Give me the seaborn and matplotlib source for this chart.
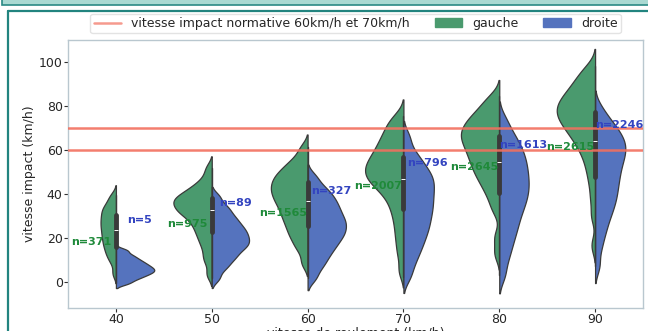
import numpy as np
import pandas as pd
import matplotlib
matplotlib.use("Agg")
import matplotlib.pyplot as plt
import seaborn as sns
from matplotlib.lines import Line2D
from matplotlib.patches import Patch, Rectangle

# ---------------- data ----------------
categories = [40, 50, 60, 70, 80, 90]
sides = ["gauche", "droite"]

gauche_40 = [3.75, 8.6, 11.1, 12.75, 14.4, 15.9, 17.2, 18.5, 19.8, 21, 22.2, 23.4, 24.6, 25.7,
             26.8, 27.9, 29.1, 30.2, 31.4, 32.6, 33.8, 35, 37.2, 39.4]
droite_40 = [-0.76, 0.87, 2.0, 2.92, 3.71, 4.42, 5.06, 5.71, 6.39, 7.13, 7.92, 8.78, 9.75,
             10.88, 12.26, 14.26]
gauche_50 = [3.3, 9, 12.3, 15.8, 18.3, 20.6, 22.4, 24.3, 25.9, 27.3, 28.8, 30.1, 30.95, 31.8,
             32.6, 33.5, 34.3, 35.1, 35.9, 36.6, 37.3, 38.1, 38.8, 39.6, 40.6, 41.9, 43.3,
             44.7, 47.6, 51.8]
droite_50 = [1.5, 5.5, 7.5, 9.6, 11, 12.3, 13.7, 15, 15.9, 16.8, 17.7, 18.7, 19.6, 20.5, 21.5,
             22.5, 23.5, 24.5, 25.6, 26.9, 28.2, 29.5, 31.2, 33.1, 35, 38.75]
gauche_60 = [8.45, 14.1, 17.1, 19.7, 21.7, 23.6, 25.5, 27.1, 28.7, 30.25, 31.6, 33, 34.4, 35.7,
             36.8, 37.9, 39.05, 40.15, 41.2, 42.2, 43.2, 44.2, 45.3, 46.4, 47.5, 48.6, 49.7,
             51.2, 52.8, 54.4, 57, 61.1]
droite_60 = [1.6, 5.9, 8.5, 10.9, 12.8, 14.7, 16.2, 17.7, 19.1, 20.4, 21.6, 22.7, 23.9, 25,
             26.2, 27.3, 28.4, 29.6, 30.9, 32.25, 33.6, 34.9, 36.5, 38, 39.6, 41.6, 43.8, 47.8]
gauche_70 = [4.8, 12.4, 17.8, 22.4, 26.6, 30.3, 33.4, 36.1, 38.4, 40.5, 41.9, 43.3, 44.7, 45.8,
             46.7, 47.7, 48.7, 49.6, 50.6, 51.6, 52.5, 53.5, 54.5, 55.5, 56.7, 57.9, 59.1,
             60.4, 61.9, 63.4, 64.8, 66.6, 68.5, 70.5, 72.8, 75.5]
droite_70 = [2.2, 7.4, 11.1, 14, 16.5, 18.8, 20.9, 22.8, 24.7, 26.4, 28.1, 29.9, 31.5, 33.1,
             34.6, 36.2, 37.8, 39.3, 40.9, 42.4, 43.9, 45.4, 46.9, 48.4, 49.9, 51.9, 53.9,
             56.4, 59.6, 65.8]
gauche_80 = [12.8, 20.4, 32.3, 36.7, 40.2, 42.6, 45, 46.8, 48.5, 50.2, 51.6, 53, 54.5, 55.8,
             57.1, 58.3, 59.6, 60.8, 61.9, 63, 64.1, 65.1, 66.1, 67.1, 68.1, 69, 70.1, 71.2,
             72.3, 73.5, 74.6, 76.1, 77.7, 79.4, 81.9, 84.5]
droite_80 = [2.8, 9.3, 13.7, 17.2, 20.3, 23, 25.4, 27.7, 30, 31.9, 33.8, 35.6, 37.2, 38.8,
             40.4, 41.9, 43.4, 44.9, 46.4, 48, 49.5, 51.1, 52.7, 54.3, 56, 57.7, 59.5, 61.4,
             63.6, 66, 69, 73.9]
gauche_90 = [16.5, 29.9, 37.6, 43.9, 48.7, 52.4, 55.7, 58.2, 60.6, 62.3, 64.1, 65.6, 66.9,
             68.2, 69.4, 70.5, 71.5, 72.5, 73.4, 74.4, 75.3, 76.1, 77, 77.8, 78.6, 79.5, 80.3,
             81.2, 82.2, 83.1, 84, 84.9, 86.2, 87.5, 88.7, 90, 91.8, 93.5, 95.5, 98.2]
droite_90 = [7.2, 14.9, 19.95, 23.6, 26.7, 29.5, 31.7, 33.8, 35.8, 37.6, 39.3, 41, 42.7, 44.4,
             46, 47.5, 49.1, 50.6, 52.1, 53.5, 55, 56.2, 57.5, 58.7, 60, 61.2, 62.4, 63.6,
             64.75, 66.1, 67.6, 69, 70.7, 72.8, 74.9, 79.1]

gauche_values = [gauche_40, gauche_50, gauche_60, gauche_70, gauche_80, gauche_90]
droite_values = [droite_40, droite_50, droite_60, droite_70, droite_80, droite_90]

n_gauche = [371, 975, 1565, 2007, 2645, 2615]
n_droite = [5, 89, 327, 796, 1613, 2246]
label_y_gauche = [17.9, 26.1, 31.1, 43.6, 52.0, 61.5]
label_y_droite = [27.9, 35.8, 41.2, 53.8, 62.1, 71.5]

normative_speeds = [60, 70]

# ---------------- tables ----------------
rows = []
box_rows = []
for cat, gv, dv, ng, nd in zip(categories, gauche_values, droite_values, n_gauche, n_droite):
    for v in gv:
        rows.append({"roulement": str(cat), "impact": v, "cote": "gauche"})
    for v in dv:
        rows.append({"roulement": str(cat), "impact": v, "cote": "droite"})
    # the centre box summarises both sides together, each side weighted by its count
    rg = max(1, round(ng / len(gv)))
    rd = max(1, round(nd / len(dv)))
    for v in np.concatenate([np.repeat(gv, rg), np.repeat(dv, rd)]):
        box_rows.append({"roulement": str(cat), "impact": v})
df = pd.DataFrame(rows)
df_box = pd.DataFrame(box_rows)
order = [str(c) for c in categories]

GREEN = "#4a9a6e"
BLUE = "#5573be"
palette = {"gauche": GREEN, "droite": BLUE}
EDGE = "#3a3a3a"
RED = "#f2705f"

sns.set_style("white")
plt.rcParams["font.family"] = ["DejaVu Sans"]

fig = plt.figure(figsize=(6.48, 3.31), dpi=100)
ax = fig.add_axes([68 / 648, 1 - 308 / 331, (643 - 68) / 648, (308 - 40) / 331])

# split violins, normalised within each speed class
for cat in order:
    sub = df[df["roulement"] == cat]
    sns.violinplot(data=sub, x="roulement", y="impact", hue="cote", order=order,
                   hue_order=sides, split=True, palette=palette, saturation=1,
                   density_norm="area", common_norm=True, bw_adjust=0.45, cut=2,
                   inner=None, linewidth=0.9, linecolor=EDGE, legend=False, ax=ax)

# one box (both sides together) on the centre line of each violin
sns.violinplot(data=df_box, x="roulement", y="impact", order=order, color=EDGE, fill=False,
               linewidth=0, inner="box", bw_adjust=0.45, cut=2,
               inner_kws=dict(box_width=3.5, whis_width=1.0, color=EDGE), ax=ax)

for y in normative_speeds:
    ax.axhline(y, color=RED, lw=1.8, alpha=0.9, zorder=5)

for i, (ng, nd, yg, yd) in enumerate(zip(n_gauche, n_droite, label_y_gauche, label_y_droite)):
    ax.text(i - 0.26, yg, f"n={ng}", ha="center", va="center", color="#1f8a3a",
            fontweight="bold", fontsize=8, zorder=6)
    ax.text(i + 0.25, yd, f"n={nd}", ha="center", va="center", color="#3344c0",
            fontweight="bold", fontsize=8, zorder=6)

ax.set_xlim(-0.5, 5.5)
ax.set_ylim(-12, 110)
ax.set_yticks([0, 20, 40, 60, 80, 100])
ax.set_xlabel("vitesse de roulement (km/h)", fontsize=9, labelpad=0)
ax.set_ylabel("vitesse impact (km/h)", fontsize=9, labelpad=2)
ax.tick_params(axis="both", labelsize=9, length=3, color="#333333", left=True, bottom=True,
               pad=0.8)
for s in ax.spines.values():
    s.set_color("#b9c7cf")
    s.set_linewidth(1.0)

handles = [Line2D([0], [0], color=RED, lw=1.8, alpha=0.7),
           Patch(facecolor=GREEN, edgecolor=GREEN),
           Patch(facecolor=BLUE, edgecolor=BLUE)]
labels = ["vitesse impact normative 60km/h et 70km/h", "gauche", "droite"]
ax.legend(handles, labels, loc="lower center", bbox_to_anchor=(0.5, 1.026),
          ncol=3, fontsize=9, frameon=True, borderaxespad=0, borderpad=0.25,
          handlelength=2.2, columnspacing=2.0, edgecolor="#dddddd", fancybox=True)

# document frame around the chart
fig.add_artist(Rectangle((2 / 648, 1 - 5 / 331), 1, 6 / 331, transform=fig.transFigure,
                         facecolor="#a9d9d2", edgecolor="#2a8a85", lw=1.2, clip_on=False))
fig.add_artist(Line2D([7.5 / 648, 1.0], [1 - 10.5 / 331, 1 - 10.5 / 331],
                      transform=fig.transFigure, color="#22847f", lw=1.6))
fig.add_artist(Line2D([7.5 / 648, 7.5 / 648], [0, 1 - 10.5 / 331],
                      transform=fig.transFigure, color="#22847f", lw=1.6))

fig.savefig("out.png", dpi=100)
